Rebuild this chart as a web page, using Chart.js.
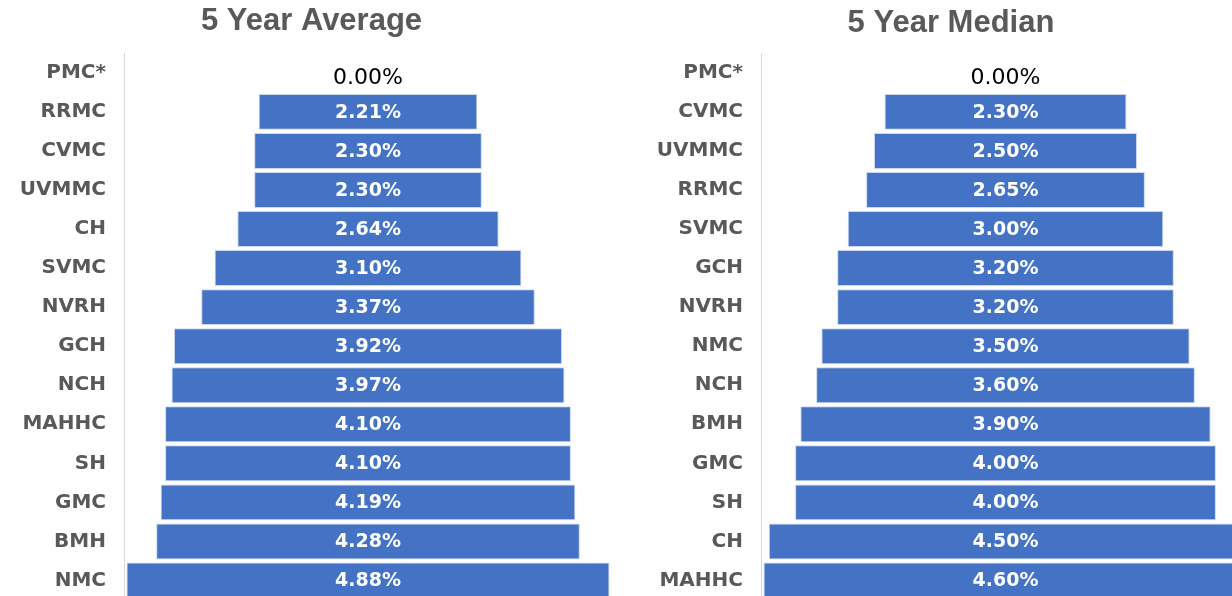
<!DOCTYPE html>
<html>
<head>
<meta charset="utf-8">
<script src="https://cdn.jsdelivr.net/npm/chart.js@4.4.0/dist/chart.umd.min.js"></script>
<style>
    html, body { margin: 0; padding: 0; background: #ffffff; overflow: hidden; width: 1232px; height: 596px; }
    canvas { position: absolute; top: 0; }
    #avgChart { left: 11px; }
    #medChart { left: 652px; }
</style>
</head>
<body>
<canvas id="avgChart" width="601" height="630"></canvas>
<canvas id="medChart" width="598" height="630"></canvas>
<script>
var avgLabels = ['PMC*', 'RRMC', 'CVMC', 'UVMMC', 'CH', 'SVMC', 'NVRH', 'GCH', 'NCH', 'MAHHC', 'SH', 'GMC', 'BMH', 'NMC'];
var avgValues = [0, 2.21, 2.30, 2.30, 2.64, 3.10, 3.37, 3.92, 3.97, 4.10, 4.10, 4.19, 4.28, 4.88];

var medLabels = ['PMC*', 'CVMC', 'UVMMC', 'RRMC', 'SVMC', 'GCH', 'NVRH', 'NMC', 'NCH', 'BMH', 'GMC', 'SH', 'CH', 'MAHHC'];
var medValues = [0, 2.30, 2.50, 2.65, 3.00, 3.20, 3.20, 3.50, 3.60, 3.90, 4.00, 4.00, 4.50, 4.60];

// draws the percent text in the middle of each bar
var barLabels = {
    id: 'barLabels',
    afterDatasetsDraw: function (chart) {
        var ctx = chart.ctx;
        var values = chart.options.plugins.barLabels.values;
        var meta = chart.getDatasetMeta(0);
        ctx.save();
        ctx.textAlign = 'center';
        ctx.textBaseline = 'middle';
        meta.data.forEach(function (bar, i) {
            var v = values[i];
            var cx = (bar.x + bar.base) / 2;
            if (v === 0) {
                ctx.fillStyle = '#000000';
                ctx.font = '22px "DejaVu Sans"';
                ctx.fillText(v.toFixed(2) + '%', cx, bar.y + 5);
            } else {
                ctx.fillStyle = '#ffffff';
                ctx.font = 'bold 19px "DejaVu Sans"';
                ctx.fillText(v.toFixed(2) + '%', cx, bar.y + 1);
            }
        });
        ctx.restore();
    }
};

function makeFunnel(id, title, labels, values, half, axisWidth, titleTop) {
    var ctx = document.getElementById(id).getContext('2d');
    return new Chart(ctx, {
        type: 'bar',
        data: {
            labels: labels,
            datasets: [{
                data: values.map(v => [-v / 2, v / 2]),
                backgroundColor: '#4472C4',
                borderColor: '#c9d7ef',
                borderWidth: values.map(v => v === 0 ? 0 : 1),
                borderSkipped: false,
                barPercentage: 0.92,
                categoryPercentage: 1
            }]
        },
        options: {
            indexAxis: 'y',
            responsive: false,
            animation: false,
            layout: { padding: { left: 0, right: 0, top: 0, bottom: 30 } },
            scales: {
                x: {
                    display: false,
                    min: -half,
                    max: half
                },
                y: {
                    grid: { display: false, drawTicks: false },
                    border: { display: true, color: '#d9d9d9', width: 1 },
                    ticks: {
                        color: '#595959',
                        font: { family: 'DejaVu Sans', size: 20, weight: 'bold' },
                        padding: 18
                    },
                    afterFit: function (scale) { scale.width = axisWidth; }
                }
            },
            plugins: {
                legend: { display: false },
                tooltip: { enabled: false },
                title: {
                    display: true,
                    text: title,
                    color: '#595959',
                    font: { family: 'Liberation Sans', size: 31, weight: 'bold' },
                    padding: { top: titleTop, bottom: 50.3 - titleTop - 37.2 + 3 }
                },
                barLabels: { values: values }
            }
        },
        plugins: [barLabels]
    });
}

makeFunnel('avgChart', '5 Year Average', avgLabels, avgValues, 2.465, 113, 3);
makeFunnel('medChart', '5 Year Median', medLabels, medValues, 2.324, 109, 5);
</script>
</body>
</html>
